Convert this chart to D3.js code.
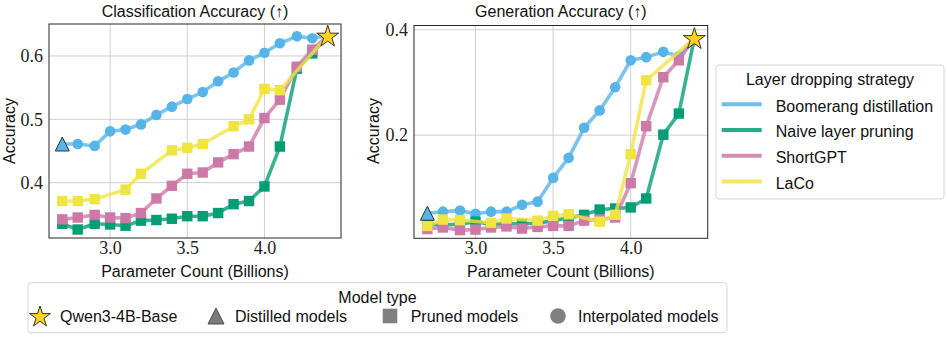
<!DOCTYPE html>
<html><head><meta charset="utf-8">
<script src="https://cdn.jsdelivr.net/npm/d3@7"></script>
<style>body{margin:0;background:#fff}</style>
</head><body><svg id="c" width="947" height="345"></svg>
<script>
// ---------------- data ----------------
const strategies = ["Boomerang distillation", "Naive layer pruning", "ShortGPT", "LaCo"];
const modelTypes = ["Qwen3-4B-Base", "Distilled models", "Pruned models", "Interpolated models"];
const xTickValues = [3.0, 3.5, 4.0];
const clsTickValues = [0.4, 0.5, 0.6];
const genTickValues = [0.2, 0.4];

// parameter counts (billions)
const xAll = [2.69, 2.79, 2.90, 3.00, 3.10, 3.20, 3.30, 3.40, 3.50, 3.60, 3.70, 3.80, 3.90, 4.00, 4.10, 4.21, 4.31];
const xLaco = [2.69, 2.79, 2.90, 3.10, 3.20, 3.40, 3.50, 3.60, 3.80, 3.90, 4.00, 4.10];
const baseX = 4.41;
const baseCls = 0.632;
const baseGen = 0.384;

// classification accuracy
const boomerangCls = [0.461, 0.461, 0.458, 0.481, 0.484, 0.492, 0.507, 0.520, 0.532, 0.543, 0.560, 0.574, 0.593, 0.605, 0.620, 0.631, 0.628];
const naiveCls     = [0.335, 0.326, 0.335, 0.334, 0.332, 0.340, 0.341, 0.343, 0.347, 0.347, 0.352, 0.366, 0.371, 0.394, 0.457, 0.580, 0.604];
const shortgptCls  = [0.342, 0.345, 0.349, 0.345, 0.344, 0.352, 0.375, 0.395, 0.414, 0.416, 0.432, 0.445, 0.457, 0.502, 0.531, 0.583, 0.610];
const lacoCls      = [0.371, 0.371, 0.374, 0.389, 0.414, 0.451, 0.455, 0.461, 0.489, 0.500, 0.548, 0.546];

// generation accuracy
const boomerangGen = [0.052, 0.055, 0.057, 0.051, 0.055, 0.055, 0.068, 0.074, 0.119, 0.157, 0.214, 0.247, 0.291, 0.342, 0.348, 0.358, 0.350];
const naiveGen     = [0.031, 0.030, 0.031, 0.036, 0.031, 0.032, 0.032, 0.033, 0.038, 0.043, 0.049, 0.059, 0.061, 0.063, 0.080, 0.201, 0.241];
const shortgptGen  = [0.022, 0.025, 0.020, 0.021, 0.025, 0.027, 0.023, 0.026, 0.028, 0.028, 0.038, 0.040, 0.044, 0.109, 0.217, 0.310, 0.342];
const lacoGen      = [0.028, 0.040, 0.039, 0.034, 0.042, 0.038, 0.047, 0.050, 0.036, 0.049, 0.164, 0.304];

// ---------------- style ----------------
const colors = ["#56B4E9", "#009E73", "#CC79A7", "#F0E442"];
const SANS = "'Liberation Sans', Arial, sans-serif";
const SERIF = "'Liberation Serif', 'Times New Roman', serif";
const W = 947, H = 345;

const svg = d3.select('#c');
svg.append('rect').attr('width', W).attr('height', H).attr('fill', '#fff');

function starPath(R) {
  const r = R * 0.382; let p = [];
  for (let i = 0; i < 10; i++) {
    const a = -Math.PI / 2 + i * Math.PI / 5;
    const rr = i % 2 === 0 ? R : r;
    p.push([rr * Math.cos(a), rr * Math.sin(a)]);
  }
  return 'M' + p.map(q => q[0].toFixed(2) + ',' + q[1].toFixed(2)).join('L') + 'Z';
}
function triPath(h) { return `M0,${-h}L${h},${h}L${-h},${h}Z`; }

function panel(cfg) {
  const x = d3.scaleLinear().domain([2.604, 4.496]).range([cfg.x0, cfg.x1]);
  const y = d3.scaleLinear().domain(cfg.yDomain).range([cfg.y1, cfg.y0]);
  const g = svg.append('g');

  // grid
  g.selectAll('.gx').data(xTickValues).join('line')
    .attr('x1', d => x(d)).attr('x2', d => x(d)).attr('y1', cfg.y0).attr('y2', cfg.y1)
    .attr('stroke', '#cfcfcf').attr('stroke-width', 1);
  g.selectAll('.gy').data(cfg.yTicks).join('line')
    .attr('y1', d => y(d)).attr('y2', d => y(d)).attr('x1', cfg.x0).attr('x2', cfg.x1)
    .attr('stroke', '#cfcfcf').attr('stroke-width', 1);

  // axes
  const ax = g.append('g').attr('transform', `translate(0,${cfg.y1})`)
    .call(d3.axisBottom(x).tickValues(xTickValues).tickSize(0).tickPadding(3).tickFormat(d3.format('.1f')));
  const ay = g.append('g').attr('transform', `translate(${cfg.x0},0)`)
    .call(d3.axisLeft(y).tickValues(cfg.yTicks).tickSize(0).tickPadding(6).tickFormat(d3.format('.1f')));
  [ax, ay].forEach(a => {
    a.select('.domain').remove();
    a.selectAll('text').attr('font-family', SERIF).attr('font-size', 18).attr('fill', '#222');
  });

  const line = d3.line().x(d => x(d[0])).y(d => y(d[1]));
  cfg.series.forEach((s, i) => {
    const pts = s.xs.map((v, k) => [v, s.ys[k]]);
    g.append('path').datum(pts.concat([[baseX, cfg.base]]))
      .attr('d', line).attr('fill', 'none').attr('stroke', colors[i])
      .attr('stroke-width', 3.6).attr('stroke-opacity', 0.78).attr('stroke-linejoin', 'round');
    const mk = i === 0 ? pts.slice(1) : pts;
    if (i === 0) {
      g.selectAll(null).data(mk).join('circle')
        .attr('cx', d => x(d[0])).attr('cy', d => y(d[1])).attr('r', 5.3).attr('fill', colors[i]);
    } else {
      g.selectAll(null).data(mk).join('rect')
        .attr('x', d => x(d[0]) - 5.2).attr('y', d => y(d[1]) - 5.2)
        .attr('width', 10.4).attr('height', 10.4).attr('fill', colors[i]);
    }
  });
  // distilled triangle
  const b = cfg.series[0];
  g.append('path').attr('d', triPath(7))
    .attr('transform', `translate(${x(b.xs[0])},${y(b.ys[0])})`)
    .attr('fill', colors[0]).attr('stroke', '#222').attr('stroke-width', 0.9);
  // base star
  g.append('path').attr('d', starPath(11.5))
    .attr('transform', `translate(${x(baseX)},${y(cfg.base) + 1})`)
    .attr('fill', '#FFD21F').attr('stroke', '#222').attr('stroke-width', 0.9);

  // frame
  g.append('rect').attr('x', cfg.x0).attr('y', cfg.y0)
    .attr('width', cfg.x1 - cfg.x0).attr('height', cfg.y1 - cfg.y0)
    .attr('fill', 'none').attr('stroke', '#262626').attr('stroke-width', 1);

  // labels
  const cx = (cfg.x0 + cfg.x1) / 2;
  g.append('text').attr('x', cx).attr('y', 17).attr('text-anchor', 'middle')
    .attr('font-family', SANS).attr('font-size', 16).attr('fill', '#111').text(cfg.title);
  g.append('text').attr('x', cx).attr('y', 277).attr('text-anchor', 'middle')
    .attr('font-family', SANS).attr('font-size', 16).attr('fill', '#111').text('Parameter Count (Billions)');
  g.append('text').attr('transform', `translate(${cfg.ylabX},131) rotate(-90)`).attr('text-anchor', 'middle')
    .attr('font-family', SANS).attr('font-size', 16).attr('fill', '#111').text('Accuracy');
}

panel({
  x0: 49, x1: 341, y0: 24, y1: 238, yDomain: [0.3126, 0.6505], yTicks: clsTickValues,
  title: 'Classification Accuracy (\u2191)', ylabX: 15, base: baseCls,
  series: [
    { xs: xAll, ys: boomerangCls }, { xs: xAll, ys: naiveCls },
    { xs: xAll, ys: shortgptCls }, { xs: xLaco, ys: lacoCls }
  ]
});
panel({
  x0: 414, x1: 707.7, y0: 25.5, y1: 238.3, yDomain: [0.0045, 0.408], yTicks: genTickValues,
  title: 'Generation Accuracy (\u2191)', ylabX: 379, base: baseGen,
  series: [
    { xs: xAll, ys: boomerangGen }, { xs: xAll, ys: naiveGen },
    { xs: xAll, ys: shortgptGen }, { xs: xLaco, ys: lacoGen }
  ]
});

// ---------------- strategy legend ----------------
const lg = svg.append('g');
lg.append('rect').attr('x', 716).attr('y', 65).attr('width', 228).attr('height', 134)
  .attr('rx', 3).attr('fill', '#fff').attr('stroke', '#d6d6d6').attr('stroke-width', 1);
lg.append('text').attr('x', 830).attr('y', 85).attr('text-anchor', 'middle')
  .attr('font-family', SANS).attr('font-size', 16).attr('fill', '#111').text('Layer dropping strategy');
strategies.forEach((s, i) => {
  const yy = 104.3 + i * 25.7;
  lg.append('line').attr('x1', 721.7).attr('x2', 761.7).attr('y1', yy).attr('y2', yy)
    .attr('stroke', colors[i]).attr('stroke-width', 4).attr('stroke-opacity', 0.85);
  lg.append('text').attr('x', 775.7).attr('y', yy + 7.4)
    .attr('font-family', SANS).attr('font-size', 16).attr('fill', '#111').text(s);
});

// ---------------- model type legend ----------------
const mg = svg.append('g');
mg.append('rect').attr('x', 28).attr('y', 282.7).attr('width', 699).attr('height', 50)
  .attr('rx', 3).attr('fill', '#fff').attr('stroke', '#d6d6d6').attr('stroke-width', 1);
mg.append('text').attr('x', 377.5).attr('y', 303.3).attr('text-anchor', 'middle')
  .attr('font-family', SANS).attr('font-size', 16).attr('fill', '#111').text('Model type');
const mx = [40, 216, 390, 558];
const tx = [60, 235, 410.7, 578];
const my = 316;
mg.append('path').attr('d', starPath(11)).attr('transform', `translate(${mx[0]},${my + 1})`)
  .attr('fill', '#FFD21F').attr('stroke', '#222').attr('stroke-width', 0.9);
mg.append('path').attr('d', triPath(8)).attr('transform', `translate(${mx[1]},${my})`)
  .attr('fill', '#7a7a7a').attr('stroke', '#444').attr('stroke-width', 0.9);
mg.append('rect').attr('x', mx[2] - 7.3).attr('y', my - 7.3).attr('width', 14.6).attr('height', 14.6).attr('fill', '#808080');
mg.append('circle').attr('cx', mx[3]).attr('cy', my).attr('r', 7.8).attr('fill', '#808080');
modelTypes.forEach((t, i) => {
  mg.append('text').attr('x', tx[i]).attr('y', 321.7)
    .attr('font-family', SANS).attr('font-size', 16).attr('fill', '#111').text(t);
});
</script></body></html>
